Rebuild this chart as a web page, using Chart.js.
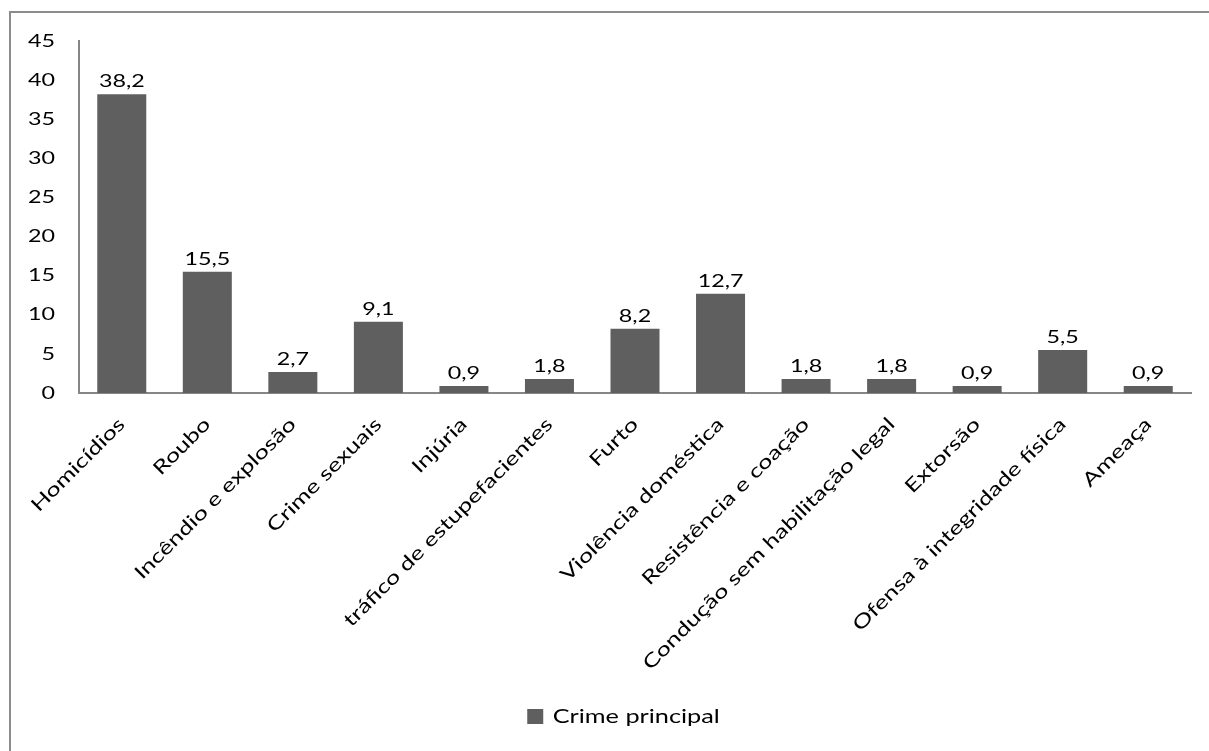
<!DOCTYPE html>
<html>
<head>
<meta charset="utf-8">
<script src="https://cdn.jsdelivr.net/npm/chart.js@4.4.0/dist/chart.umd.min.js"></script>
<style>
  html, body { margin: 0; padding: 0; background: #ffffff; width: 1209px; height: 751px; overflow: hidden; }
  #frame { position: absolute; left: 9px; top: 11px; width: 1300px; height: 800px;
           border-left: 2px solid #8c8c8c; border-top: 2px solid #8c8c8c; box-sizing: border-box; }
  #wrap { position: absolute; left: 0; top: 0; width: 1209px; height: 751px; }
</style>
</head>
<body>
<div id="frame"></div>
<div id="wrap"><canvas id="c" width="1209" height="751"></canvas></div>
<script>
// ---- Data ----
const categories = [
  'Homicídios', 'Roubo', 'Incêndio e explosão', 'Crime sexuais', 'Injúria',
  'tráfico de estupefacientes', 'Furto', 'Violência doméstica', 'Resistência e coação',
  'Condução sem habilitação legal', 'Extorsão', 'Ofensa à integridade física', 'Ameaça'
];
const values = [38.2, 15.5, 2.7, 9.1, 0.9, 1.8, 8.2, 12.7, 1.8, 1.8, 0.9, 5.5, 0.9];
const seriesName = 'Crime principal';
const yMin = 0;
const yMax = 45;
const yStep = 5;

// ---- Style ----
const FONT = 'Lato';
const LABEL_SIZE = 19;      // category labels and legend
const NUM_SIZE = 17.5;      // tick numbers and value labels
const TEXT_STRETCH = 1.33;  // glyphs in the reference are rendered wide
const BAR_COLOR = '#5f5f5f';
const AXIS_COLOR = '#868686';
const LEGEND_SHIFT = 56;

const fmt = v => v.toFixed(1).replace('.', ',');

const canvas = document.getElementById('c');
const ctx = canvas.getContext('2d');
const origFill = ctx.fillText;
const origMeasure = ctx.measureText;
ctx.fillText = function (t, x, y, mw) {
  this.save();
  this.translate(x, y);
  this.scale(TEXT_STRETCH, 1);
  if (mw !== undefined && mw !== null) origFill.call(this, t, 0, 0, mw / TEXT_STRETCH);
  else origFill.call(this, t, 0, 0);
  this.restore();
};
ctx.measureText = function (t) {
  const m = origMeasure.call(this, t);
  return {
    width: m.width * TEXT_STRETCH,
    actualBoundingBoxAscent: m.actualBoundingBoxAscent,
    actualBoundingBoxDescent: m.actualBoundingBoxDescent,
    actualBoundingBoxLeft: m.actualBoundingBoxLeft * TEXT_STRETCH,
    actualBoundingBoxRight: m.actualBoundingBoxRight * TEXT_STRETCH,
    fontBoundingBoxAscent: m.fontBoundingBoxAscent,
    fontBoundingBoxDescent: m.fontBoundingBoxDescent
  };
};

const valueLabelPlugin = {
  id: 'valueLabels',
  afterDatasetsDraw(chart) {
    const c = chart.ctx;
    const meta = chart.getDatasetMeta(0);
    c.save();
    c.font = NUM_SIZE + 'px ' + FONT;
    c.fillStyle = '#000000';
    c.textAlign = 'center';
    c.textBaseline = 'alphabetic';
    meta.data.forEach((bar, i) => {
      c.fillText(fmt(values[i]), bar.x, bar.y - 7);
    });
    c.restore();
  }
};

const legendShiftPlugin = {
  id: 'legendShift',
  afterLayout(chart) {
    if (chart.legend) chart.legend.left += LEGEND_SHIFT;
  }
};

new Chart(canvas, {
  type: 'bar',
  data: {
    labels: categories,
    datasets: [{
      label: seriesName,
      data: values,
      backgroundColor: BAR_COLOR,
      borderWidth: 0,
      barPercentage: 0.573,
      categoryPercentage: 1.0
    }]
  },
  options: {
    responsive: false,
    animation: false,
    devicePixelRatio: 1,
    layout: { padding: { left: 0, right: 18, top: 41, bottom: 15 } },
    plugins: {
      legend: {
        position: 'bottom',
        labels: {
          boxWidth: 16,
          boxHeight: 15,
          color: '#000000',
          padding: 10,
          font: { family: FONT, size: LABEL_SIZE }
        }
      },
      tooltip: { enabled: false }
    },
    scales: {
      x: {
        grid: { display: false },
        border: { display: true, color: AXIS_COLOR, width: 2 },
        ticks: {
          color: '#000000',
          autoSkip: false,
          maxRotation: 45,
          minRotation: 45,
          padding: 12,
          font: { family: FONT, size: LABEL_SIZE }
        },
        afterFit(scale) { scale.height = 304; }
      },
      y: {
        min: yMin,
        max: yMax,
        grid: { display: false },
        border: { display: true, color: AXIS_COLOR, width: 2 },
        ticks: {
          stepSize: yStep,
          color: '#000000',
          padding: 16,
          font: { family: FONT, size: NUM_SIZE }
        },
        afterFit(scale) { scale.width = 79; }
      }
    }
  },
  plugins: [valueLabelPlugin, legendShiftPlugin]
});
</script>
</body>
</html>
